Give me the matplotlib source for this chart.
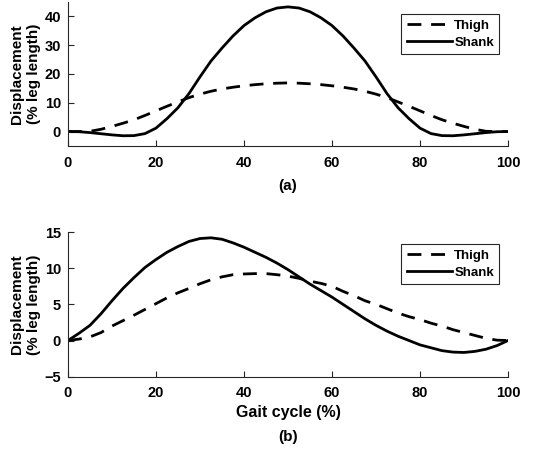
import numpy as np
import matplotlib
matplotlib.use("Agg")
import matplotlib.pyplot as plt

plt.rcParams['font.family'] = ['Liberation Sans', 'DejaVu Sans']
plt.rcParams['font.weight'] = 'bold'

# gait cycle sampled every 2.5 %
gait = np.arange(0, 100.01, 2.5)

# (a) first half, curves are mirror symmetric about 50 %
shank_a_half = [0, -0.05, -0.35, -0.75, -1.15, -1.45, -1.4, -0.7, 1.2, 4.5, 8.3,
                13.2, 19.0, 24.5, 29.0, 33.2, 36.8, 39.5, 41.6, 42.9, 43.3]
thigh_a_half = [0, 0, 0.1, 0.8, 1.8, 2.9, 4.1, 5.6, 7.2, 8.8, 10.3,
                11.8, 13.0, 14.0, 14.8, 15.4, 15.9, 16.3, 16.6, 16.8, 16.9]
shank_a = shank_a_half + shank_a_half[-2::-1]
thigh_a = thigh_a_half + thigh_a_half[-2::-1]

# (b)
shank_b = [0, 1.0, 2.1, 3.7, 5.5, 7.2, 8.7, 10.1, 11.2, 12.2, 13.0, 13.7, 14.1,
           14.2, 14.0, 13.5, 12.9, 12.2, 11.5, 10.7, 9.8, 8.8, 7.8, 6.9, 6.0,
           5.0, 4.0, 3.0, 2.1, 1.3, 0.6, 0.0, -0.6, -1.0, -1.4, -1.6, -1.65,
           -1.5, -1.2, -0.7, 0]
thigh_b = [0, 0.2, 0.5, 1.1, 2.0, 2.75, 3.5, 4.3, 5.1, 5.9, 6.6, 7.2, 7.85,
           8.4, 8.8, 9.1, 9.2, 9.25, 9.25, 9.1, 8.9, 8.6, 8.2, 7.9, 7.5, 6.8,
           6.2, 5.5, 5.0, 4.4, 3.8, 3.3, 2.9, 2.4, 2.0, 1.5, 1.1, 0.7, 0.3,
           0.05, 0]

fig = plt.figure(figsize=(5.47, 4.5), dpi=100)
ax1 = fig.add_axes([0.1243, 0.6756, 0.8044, 0.32])
ax2 = fig.add_axes([0.1243, 0.1629, 0.8044, 0.3215])

panels = [
    (ax1, thigh_a, shank_a, (-5, 45), [0, 10, 20, 30, 40]),
    (ax2, thigh_b, shank_b, (-5, 15), [-5, 0, 5, 10, 15]),
]

for ax, thigh, shank, ylim, yticks in panels:
    ax.plot(gait, thigh, 'k--', lw=2.0, dashes=(5, 3.5), label='Thigh')
    ax.plot(gait, shank, 'k-', lw=2.0, label='Shank')
    ax.set_xlim(0, 100)
    ax.set_ylim(*ylim)
    ax.set_xticks([0, 20, 40, 60, 80, 100])
    ax.set_yticks(yticks)
    for s in ['top', 'right']:
        ax.spines[s].set_visible(False)
    for s in ['left', 'bottom']:
        ax.spines[s].set_color('#262626')
        ax.spines[s].set_linewidth(0.8)
    ax.tick_params(direction='in', length=4, width=0.8, color='#262626',
                   labelsize=10.5)
    ax.tick_params(axis='y', pad=5)
    ax.tick_params(axis='x', pad=7)
    for lab in ax.get_xticklabels() + ax.get_yticklabels():
        lab.set_fontweight('bold')
    ax.set_ylabel('Displacement\n(% leg length)', fontsize=11,
                  fontweight='bold', linespacing=1.25)
    ax.yaxis.set_label_coords(-0.062, 0.5)
    leg = ax.legend(loc='upper right', bbox_to_anchor=(0.995, 0.96),
                    fontsize=9.5, handlelength=3.4, handletextpad=0.2,
                    borderpad=0.4, labelspacing=0.35, fancybox=False,
                    framealpha=1)
    leg.get_frame().set_edgecolor('#262626')
    leg.get_frame().set_linewidth(0.8)
    for t in leg.get_texts():
        t.set_fontweight('bold')

ax2.set_xlabel('Gait cycle (%)', fontsize=11.5, fontweight='bold', labelpad=3)
fig.text(0.5267, 1 - 186 / 450, '(a)', ha='center', va='center',
         fontsize=11, fontweight='bold')
fig.text(0.5267, 1 - 437 / 450, '(b)', ha='center', va='center',
         fontsize=11, fontweight='bold')

fig.savefig('out.png', dpi=100)
